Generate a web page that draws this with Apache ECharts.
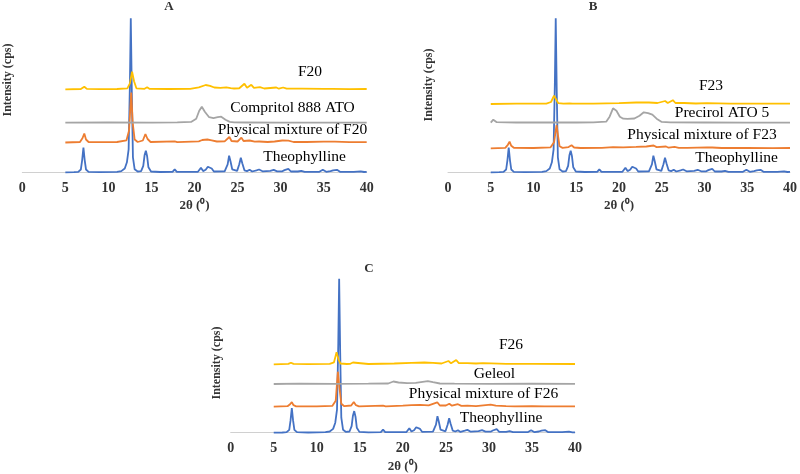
<!DOCTYPE html>
<html><head><meta charset="utf-8">
<script src="https://cdn.jsdelivr.net/npm/echarts@6/dist/echarts.min.js"></script>
<style>html,body{margin:0;padding:0;background:#fff}#c{width:800px;height:474px}</style>
</head><body><div id="c"></div>
<script>
// ---------- DATA (2θ in degrees, intensity in arbitrary cps) ----------
const panelTitles = ['A', 'B', 'C'];
const xAxisTitle = '2θ (⁰)';
const yAxisTitle = 'Intensity (cps)';

const theophylline = [[5.0,0],[6.0,2],[6.5,5],[6.8,28],[6.95,120],[7.1,246],[7.25,120],[7.4,28],[7.7,5],[9,2],[11.0,5],[11.5,12],[11.9,38],[12.15,100],[12.35,230],[12.5,900],[12.6,1540],[12.72,800],[12.85,150],[13.05,30],[13.4,8],[13.8,12],[14.05,65],[14.2,170],[14.35,216],[14.5,160],[14.65,50],[14.95,8],[16,3],[17.45,5],[17.7,30],[17.95,5],[20.4,5],[20.75,45],[21.0,12],[21.3,25],[21.55,55],[21.75,35],[22.0,38],[22.25,8],[23.5,10],[23.85,80],[24.02,166],[24.18,110],[24.38,30],[24.6,12],[24.95,14],[25.2,80],[25.38,145],[25.55,90],[25.8,20],[26.1,12],[26.4,25],[26.7,8],[27.2,20],[27.5,28],[27.9,10],[28.8,15],[29.2,25],[29.6,10],[30.2,10],[30.45,22],[30.65,12],[30.9,35],[31.2,8],[32.0,8],[32.4,15],[32.8,5],[34.5,5],[34.9,25],[35.3,5],[35.8,12],[36.1,20],[36.3,14],[36.55,25],[36.9,5],[38.5,5],[39.3,10],[39.7,3],[40,4]];

const pmF20 = [[5,0],[6.7,5],[7.0,45],[7.2,90],[7.4,30],[7.7,5],[9,3],[11,5],[12.1,22],[12.4,120],[12.65,500],[12.82,200],[13.05,30],[13.4,5],[14.0,20],[14.3,85],[14.55,35],[14.9,5],[17.7,12],[18,3],[20.5,12],[20.9,25],[21.5,30],[22,22],[22.6,10],[23.5,12],[24.05,55],[24.3,15],[25,10],[25.45,48],[25.7,15],[26.4,20],[27,8],[27.5,10],[28.5,5],[29.3,10],[30.2,20],[30.9,18],[31.5,5],[33,5],[35,8],[36.3,8],[38,4],[40,3]];
const compritol = [[5,0],[10,2],[15,0],[18,3],[19.6,8],[20.2,40],[20.55,120],[20.85,160],[21.2,110],[21.7,55],[22.2,45],[22.7,55],[23.1,60],[23.6,30],[24.1,8],[24.6,3],[26,2],[30,0],[35,1],[40,0]];
const f20 = [[5,0],[6.8,3],[7.2,26],[7.5,4],[9,2],[11,3],[12.2,10],[12.5,60],[12.75,176],[12.98,80],[13.25,10],[14.2,5],[14.5,20],[14.8,4],[17,3],[19.5,5],[20.5,20],[21.3,43],[21.8,35],[22.3,18],[23,15],[23.7,20],[24.2,12],[24.6,8],[25.2,10],[25.8,55],[26.1,15],[26.6,45],[26.9,15],[27.6,22],[28.1,8],[29.5,18],[29.8,6],[30.3,18],[30.7,6],[32.5,6],[35,4],[36,5],[38,2],[40,3]];

const pmF23 = [[5,0],[6.7,5],[7.0,35],[7.2,66],[7.4,25],[7.7,5],[10,3],[12.0,10],[12.4,60],[12.7,233],[12.88,120],[13.05,20],[13.4,4],[14.1,12],[14.45,30],[14.75,8],[15.5,3],[18,4],[19.3,12],[20.5,10],[22,14],[23.2,18],[24.05,28],[24.4,12],[25.5,18],[25.8,6],[26.5,14],[27,5],[28,4],[30.3,10],[30.9,8],[32,3],[35,4],[38,2],[40,3]];
const precirol = [[5,0],[5.3,30],[5.7,5],[8,2],[12,3],[15,2],[17,3],[18.5,10],[18.9,60],[19.3,144],[19.7,120],[20.1,60],[20.5,40],[21,38],[21.8,42],[22.4,70],[22.9,104],[23.4,95],[23.9,80],[24.4,40],[25,8],[26,3],[30,2],[35,0],[40,1]];
const f23 = [[5,0],[8,3],[11.5,4],[12.05,20],[12.4,83],[12.62,50],[12.9,8],[13.5,3],[14.2,6],[14.4,17],[14.6,4],[17,3],[20,8],[22,15],[23.5,15],[24.5,10],[25.4,30],[25.7,10],[26.3,38],[26.6,10],[27.6,10],[29,5],[30.3,8],[33,3],[36,4],[40,3]];

const pmF26 = [[5,0],[6.6,5],[6.9,25],[7.1,46],[7.3,15],[7.6,4],[10,3],[11.8,8],[12.2,60],[12.45,350],[12.62,200],[12.85,30],[13.2,5],[14.0,12],[14.3,47],[14.55,15],[14.9,4],[17.7,10],[18,3],[20,10],[21,16],[22,18],[23,14],[24.0,44],[24.3,12],[25.0,12],[25.4,30],[25.7,10],[26.4,25],[26.8,8],[27.5,10],[28.5,6],[30.2,20],[30.8,10],[32,6],[33,3],[35,5],[36.5,4],[40,3]];
const geleol = [[5,0],[8,3],[12,2],[16,3],[18.3,5],[18.9,25],[19.5,15],[20.5,8],[21.5,12],[22.3,22],[22.9,28],[23.5,18],[24.3,5],[26,3],[30,2],[35,3],[40,2]];
const f26 = [[5,0],[6.7,4],[7.0,16],[7.3,4],[9,2],[11.5,5],[12.0,20],[12.3,120],[12.52,50],[12.75,8],[13.5,3],[13.9,5],[14.2,18],[14.4,5],[16,3],[19,8],[21,15],[22.5,18],[23.5,14],[24.5,8],[25.3,33],[25.6,10],[26.2,43],[26.5,12],[27.5,12],[28.5,8],[29.3,12],[30.3,10],[32,4],[35,5],[40,3]];

const namesA = ['Theophylline', 'Physical mixture of F20', 'Compritol 888 ATO', 'F20'];
const namesB = ['Theophylline', 'Physical mixture of F23', 'Precirol ATO 5', 'F23'];
const namesC = ['Theophylline', 'Physical mixture of F26', 'Geleol', 'F26'];
const profilesA = [theophylline, pmF20, compritol, f20];
const profilesB = [theophylline, pmF23, precirol, f23];
const profilesC = [theophylline, pmF26, geleol, f26];
// vertical stacking offsets (cps)
const offsetsA = [0, 298, 496, 830];
const offsetsB = [0, 240, 496, 683];
const offsetsC = [0, 260, 487, 684];

// ---------- LAYOUT / STYLE ----------
const colors = ['#4472C4', '#ED7D31', '#A5A5A5', '#FFC000'];
const serif = '"Liberation Serif", "Times New Roman", serif';
const panels = [
  { grid: {left: 22.3, top: 10, width: 344.4, height: 162.3}, ymax: 1623,
    names: namesA, profiles: profilesA, offsets: offsetsA,
    title: [169, 7], ylab: [8, 80],
    labels: [[304.5,157],[292.5,130],[292.5,108],[310,72]] },
  { grid: {left: 448, top: 10, width: 342.7, height: 162.3}, ymax: 1623,
    names: namesB, profiles: profilesB, offsets: offsetsB,
    title: [593, 7], ylab: [429, 85],
    labels: [[736.5,158],[702,135],[722,113],[711,86]] },
  { grid: {left: 230.7, top: 272, width: 344.3, height: 160.7}, ymax: 1607,
    names: namesC, profiles: profilesC, offsets: offsetsC,
    title: [369, 269], ylab: [217, 363],
    labels: [[501,418],[483.5,394],[494.5,374],[511,345]] }
];

const grid = [], xAxis = [], yAxis = [], series = [], graphic = [];
panels.forEach((p, i) => {
  grid.push(p.grid);
  xAxis.push({
    gridIndex: i, type: 'value', min: 0, max: 40, interval: 5,
    axisLine: {show: true, lineStyle: {color: '#D0D0D0', width: 1}},
    axisTick: {show: false}, splitLine: {show: false},
    axisLabel: {margin: 9, fontFamily: serif, fontWeight: 'bold', fontSize: 14, color: '#333'},
    name: xAxisTitle, nameLocation: 'middle', nameGap: 27,
    nameTextStyle: {fontFamily: serif, fontWeight: 'bold', fontSize: 13, color: '#333'}
  });
  yAxis.push({
    gridIndex: i, type: 'value', min: 0, max: p.ymax,
    axisLine: {show: false}, axisTick: {show: false}, axisLabel: {show: false}, splitLine: {show: false}
  });
  p.profiles.forEach((prof, k) => {
    series.push({
      type: 'line', name: p.names[k], xAxisIndex: i, yAxisIndex: i,
      data: prof.map(d => [d[0], d[1] + p.offsets[k]]),
      showSymbol: false, symbol: 'none', smooth: false, clip: false,
      lineStyle: {color: colors[k], width: 1.8}, z: 2 + k
    });
    graphic.push({
      type: 'text', x: p.labels[k][0], y: p.labels[k][1], z: 100,
      style: {text: p.names[k], fill: '#000', font: '15.5px ' + serif, textAlign: 'center', textVerticalAlign: 'middle'}
    });
  });
  graphic.push({
    type: 'text', x: p.title[0], y: p.title[1],
    style: {text: panelTitles[i], fill: '#333', font: 'bold 13px ' + serif, textAlign: 'center', textVerticalAlign: 'middle'}
  });
  graphic.push({
    type: 'text', x: p.ylab[0], y: p.ylab[1], rotation: Math.PI / 2,
    style: {text: yAxisTitle, fill: '#333', font: 'bold 12px ' + serif, textAlign: 'center', textVerticalAlign: 'middle'}
  });
});

const chart = echarts.init(document.getElementById('c'), null, {renderer: 'canvas'});
chart.setOption({
  animation: false, backgroundColor: '#fff',
  grid, xAxis, yAxis, series, graphic
});
</script></body></html>
